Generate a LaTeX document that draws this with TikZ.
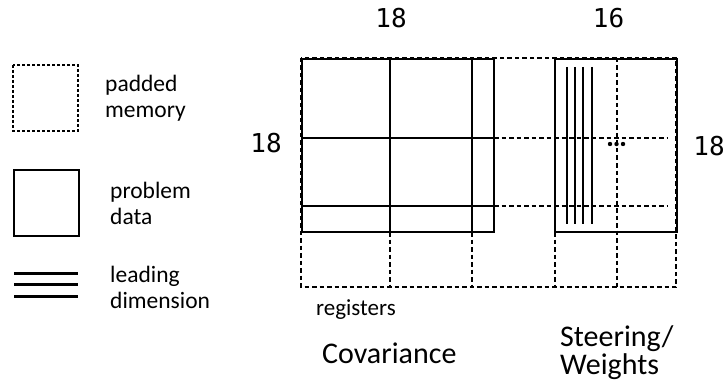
\documentclass[tikz,border=0pt]{standalone}
\usepackage{fontspec}
\setmainfont{Carlito}
\newfontfamily\numfont{DejaVu Sans Mono}
\begin{document}
\begin{tikzpicture}[x=1pt,y=-1pt,
  pad/.style={dash pattern=on 4.5pt off 3pt, line width=1.1pt},
  data/.style={line width=1.2pt},
  lead/.style={line width=1.3pt},
  leglead/.style={line width=3pt},
  lbl/.style={font=\fontsize{23.5}{26}\selectfont, align=left, anchor=base west, inner sep=0pt},
  dimlbl/.style={font=\numfont\fontsize{26}{28}\selectfont, anchor=base, inner sep=0pt},
  title/.style={font=\fontsize{30}{28}\selectfont, align=left, anchor=base west, inner sep=0pt}]
  \useasboundingbox (0,0) rectangle (727,390);
  \coordinate (padNW) at (13,65);
  \coordinate (padSE) at (78,131);
  \coordinate (dataNW) at (14,170);
  \coordinate (dataSE) at (79,236);
  \coordinate (leadA) at (14,273);
  \coordinate (leadB) at (14,284);
  \coordinate (leadC) at (14,296);
  \draw[pad, dash pattern=on 3pt off 2pt] (padNW) rectangle (padSE);
  \draw[data] (dataNW) rectangle (dataSE);
  \draw[leglead] (leadA) -- ++(64,0);
  \draw[leglead] (leadB) -- ++(64,0);
  \draw[leglead] (leadC) -- ++(64,0);
  \node[lbl] (padlbl) at (105,118) {padded\\memory};
  \node[lbl] (datalbl) at (110,224) {problem\\data};
  \node[lbl] (leadlbl) at (110,308) {leading\\dimension};
  \coordinate (memNW) at (301,58);
  \coordinate (memSE) at (676,287);
  \coordinate (covNW) at (302,59);
  \coordinate (covSE) at (494,232);
  \coordinate (steNW) at (555,59);
  \coordinate (steSE) at (677,232);
  \draw[pad] (memNW) rectangle (memSE);
  \draw[data] (covNW) rectangle (covSE);
  \draw[data] (steNW) rectangle (steSE);
  \draw[data] (390,59) -- (390,232);
  \draw[data] (472,59) -- (472,232);
  \draw[data] (302,138) -- (494,138);
  \draw[data] (302,206) -- (494,206);
  \draw[pad] (390,232) -- (390,287);
  \draw[pad] (472,232) -- (472,287);
  \draw[pad] (555,232) -- (555,287);
  \draw[pad] (494,138) -- (668,138);
  \draw[pad] (494,206) -- (668,206);
  \draw[pad] (617,58) -- (617,287);
  \draw[lead] (567,67) -- (567,224);
  \draw[lead] (575,67) -- (575,224);
  \draw[lead] (583,67) -- (583,224);
  \draw[lead] (592,67) -- (592,224);
  \fill (610,144) circle (2.2pt);
  \fill (616.5,144) circle (2.2pt);
  \fill (623,144) circle (2.2pt);
  \node[dimlbl] (covcols) at (391,28) {18};
  \node[dimlbl] (stecols) at (608.5,28) {16};
  \node[dimlbl] (covrows) at (266,153) {18};
  \node[dimlbl] (sterows) at (709,156) {18};
  \node[lbl, font=\fontsize{23}{26}\selectfont] (reglbl) at (316,315) {registers};
  \node[title] (covlbl) at (322,363) {Covariance};
  \node[title] (stelbl) at (560,374) {Steering/\\Weights};
\end{tikzpicture}
\end{document}
